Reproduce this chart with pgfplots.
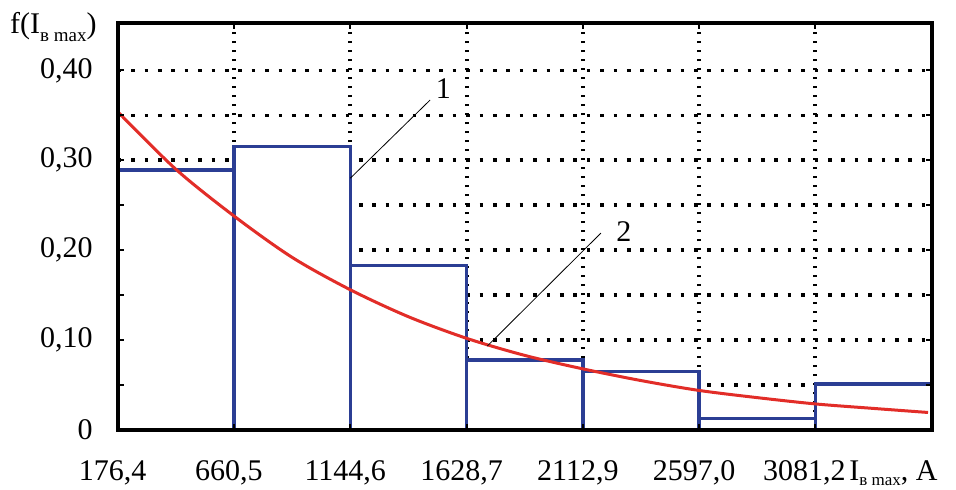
\documentclass[border=0pt]{standalone}
\usepackage{fontspec}
\setmainfont{Liberation Serif}
\usepackage{pgfplots}
\pgfplotsset{compat=1.18}
\definecolor{barblue}{RGB}{43,62,148}
\definecolor{curvered}{RGB}{226,45,40}
\newcommand{\fs}{\fontsize{15}{17}\selectfont}
\begin{document}
\begin{tikzpicture}
\begin{axis}[
  at={(58.85pt,29.5pt)}, anchor=south west,
  scale only axis, width=407pt, height=203.65pt,
  xmin=176.4, xmax=3565.3, ymin=0, ymax=0.453,
  set layers=axis on top,
  xtick={176.4,660.5,1144.6,1628.7,2112.9,2597.0,3081.2},
  xticklabels={{176,4},{660,5},{1144,6},{1628,7},{2112,9},{2597,0},{\hspace*{-6pt}3081,2}},
  ytick={0,0.1,0.2,0.3,0.4},
  yticklabels={0,{0,10},{0,20},{0,30},{0,40}},
  minor ytick={0.05,0.15,0.25,0.35},
  grid=both,
  major x grid style={/pgfplots/on layer=axis background, black, line width=2pt, dash pattern=on 1pt off 3.5pt},
  major y grid style={/pgfplots/on layer=axis background, black, line width=1.8pt, dash pattern=on 1.8pt off 4.9pt},
  minor y grid style={/pgfplots/on layer=axis background, black, line width=1.8pt, dash pattern=on 1.8pt off 4.9pt},
  axis line style={line width=2pt, black},
  tick style={black, line width=1pt},
  major tick length=3pt, minor tick length=3pt,
  xticklabel style={font=\fs, anchor=base, yshift=-25pt, xshift=-2.5pt, inner sep=0pt},
  yticklabel style={font=\fs, anchor=east, xshift=-12.3pt, inner sep=0pt},
]
\addplot[ybar interval, draw=barblue, fill=white, line width=1.7pt] coordinates {
  (176.4,0.289) (660.5,0.315) (1144.6,0.183) (1628.7,0.078)
  (2112.9,0.065) (2597.0,0.013) (3081.2,0.051) (3565.3,0.051)};
\addplot[curvered, line width=1.5pt, smooth, mark=none] coordinates {
  (176.4,0.354) (418.5,0.290) (660.5,0.238) (902.6,0.192)
  (1144.6,0.156) (1386.7,0.126) (1628.7,0.102) (1870.8,0.083)
  (2112.9,0.068) (2355.0,0.055) (2597.0,0.044) (2839.1,0.036)
  (3081.2,0.029) (3323.3,0.024) (3550.0,0.0195)};
\draw[line width=0.4pt] (axis cs:1144.6,0.28) -- (axis cs:1477,0.367);
\node[font=\fs, inner sep=0pt] at (axis cs:1532,0.38) {1};
\draw[line width=0.4pt] (axis cs:1715,0.0933) -- (axis cs:2188,0.219);
\node[font=\fs, inner sep=0pt] at (axis cs:2284,0.221) {2};
\end{axis}
\node[anchor=base east, inner sep=0pt, font=\fs] at (48.5pt,228pt)
  {f(I\raisebox{-4pt}{\fontsize{9.5}{11}\selectfont в max})};
\node[anchor=base west, inner sep=0pt, font=\fs] at (424.5pt,4.5pt)
  {I\raisebox{-2.5pt}{\fontsize{8.5}{10}\selectfont в max}, A};
\pgfresetboundingbox
\path[use as bounding box] (0,0) rectangle (478pt,244.5pt);
\end{tikzpicture}
\end{document}
